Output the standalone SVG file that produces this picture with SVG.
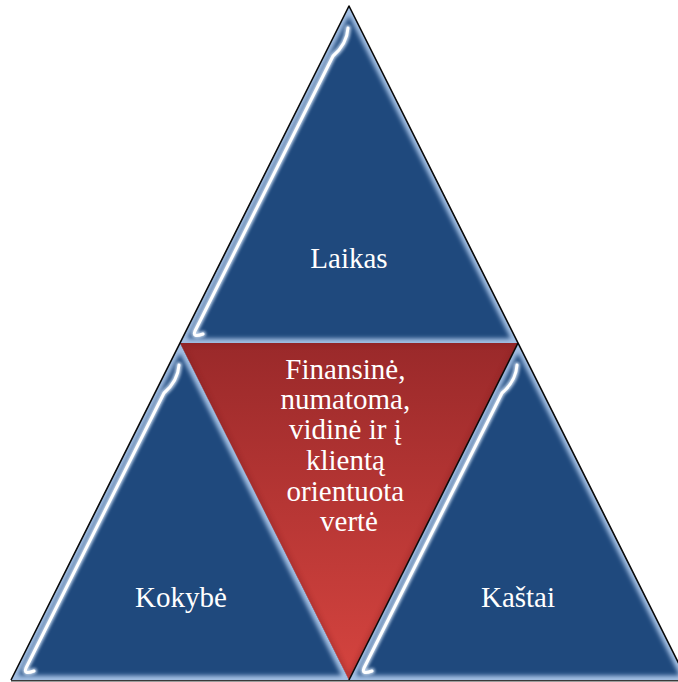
<svg xmlns="http://www.w3.org/2000/svg" width="678" height="682" viewBox="0 0 678 682">
<defs>
<style>
.blue{fill:#1f497d}
.glow{fill:none;stroke:#a3bfe3;stroke-width:9;filter:url(#blur2)}
.halo{fill:none;stroke:#cfe0f5;stroke-width:6;stroke-linecap:round;filter:url(#blur15);opacity:0.9}
.hl{fill:none;stroke:#ffffff;stroke-width:3;stroke-linecap:round;filter:url(#blur05)}
.lbl{font-family:"Liberation Serif","Times New Roman","DejaVu Serif",serif;font-size:29px;fill:#ffffff;text-anchor:middle}
.outline{fill:none;stroke:#0a0a0a;stroke-width:1.6;stroke-linejoin:round}
</style>
<filter id="blur2" x="-10%" y="-10%" width="120%" height="120%"><feGaussianBlur stdDeviation="2"/></filter>
<filter id="blur15" x="-10%" y="-10%" width="120%" height="120%"><feGaussianBlur stdDeviation="1.5"/></filter>
<filter id="blur05" x="-10%" y="-10%" width="120%" height="120%"><feGaussianBlur stdDeviation="0.5"/></filter>
<clipPath id="clipT"><path d="M349,6 L518,343 L180,343 Z"/></clipPath>
<clipPath id="clipL"><path d="M180,343 L349,680 L11,680 Z"/></clipPath>
<clipPath id="clipR"><path d="M518,343 L687,680 L349,680 Z"/></clipPath>
<clipPath id="clipRed"><path d="M180,343 L518,343 L349,680 Z"/></clipPath>
<linearGradient id="redGrad" x1="0" y1="343" x2="0" y2="680" gradientUnits="userSpaceOnUse">
<stop offset="0" stop-color="#9a292a"/>
<stop offset="1" stop-color="#d5443f"/>
</linearGradient>
</defs>

<g id="node-laikas">
<path class="blue" d="M349,6 L518,343 L180,343 Z"/>
<g clip-path="url(#clipT)"><path class="glow" d="M349,6 L518,343 L180,343 Z"/></g>
<path class="halo" d="M348,28 Q347,44 333,56 L195,331 Q192,338 203,334"/>
<path class="hl" d="M348,28 Q347,44 333,56 L195,331 Q192,338 203,334"/>
<text class="lbl" x="349" y="268" font-family="Liberation Serif, Times New Roman, serif">Laikas</text>
</g>

<g id="node-kokybe">
<path class="blue" d="M180,343 L349,680 L11,680 Z"/>
<g clip-path="url(#clipL)"><path class="glow" d="M180,343 L349,680 L11,680 Z"/></g>
<path class="halo" d="M179,365 Q178,381 164,393 L26,668 Q23,675 34,671"/>
<path class="hl" d="M179,365 Q178,381 164,393 L26,668 Q23,675 34,671"/>
<text class="lbl" x="181" y="607" font-family="Liberation Serif, Times New Roman, serif">Kokybė</text>
</g>

<g id="node-verte">
<path d="M180,343 L518,343 L349,680 Z" fill="url(#redGrad)"/>
<g clip-path="url(#clipRed)">
<path d="M180,343 L518,343 L349,680 Z" fill="none" stroke="#7a1e20" stroke-width="6" opacity="0.3" filter="url(#blur2)"/>
<path d="M182,344.8 L516,344.8" stroke="#e27a78" stroke-width="1.6" filter="url(#blur05)"/>
</g>
<text class="lbl" font-family="Liberation Serif, Times New Roman, serif">
<tspan x="349" y="379">Finansinė,</tspan>
<tspan x="349" y="409">numatoma,</tspan>
<tspan x="349" y="439">vidinė ir į</tspan>
<tspan x="349" y="470">klientą</tspan>
<tspan x="349" y="501">orientuota</tspan>
<tspan x="349" y="531">vertė</tspan>
</text>
</g>

<g id="node-kastai">
<path class="blue" d="M518,343 L687,680 L349,680 Z"/>
<g clip-path="url(#clipR)"><path class="glow" d="M518,343 L687,680 L349,680 Z"/></g>
<path class="halo" d="M517,365 Q516,381 502,393 L364,668 Q361,675 372,671"/>
<path class="hl" d="M517,365 Q516,381 502,393 L364,668 Q361,675 372,671"/>
<text class="lbl" x="518" y="607" font-family="Liberation Serif, Times New Roman, serif">Kaštai</text>
</g>

<g id="connectors">
<path class="outline" d="M11,680 L349,6 L687,680"/>
<path class="outline" d="M518,343 L349,680"/>
<path d="M11,680.8 H678" stroke="#3a3a3a" stroke-width="1.6" fill="none"/>
</g>
</svg>
